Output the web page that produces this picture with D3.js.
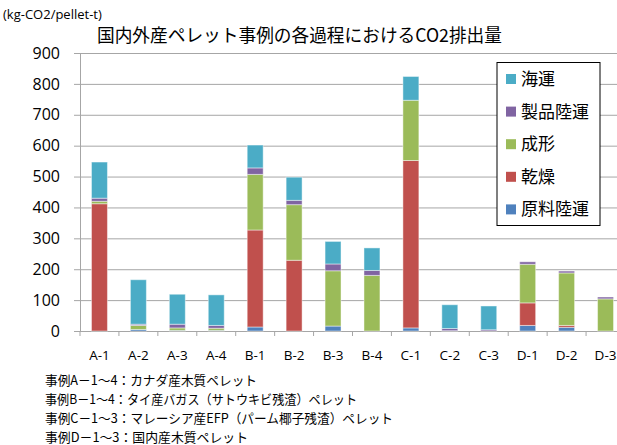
<!DOCTYPE html>
<html>
<head>
<meta charset="utf-8">
<script src="https://cdn.jsdelivr.net/npm/d3@7"></script>
<style>
  body { margin: 0; background: #fff; }
  svg { display: block; }
</style>
</head>
<body>
<div id="chart"></div>
<script>
// chart data
var categories = ["A-1", "A-2", "A-3", "A-4", "B-1", "B-2", "B-3", "B-4", "C-1", "C-2", "C-3", "D-1", "D-2", "D-3"];
var seriesNames = ["原料陸運", "乾燥", "成形", "製品陸運", "海運"];
var genryoRikuun = [0, 5, 2, 2, 13, 0, 16, 0, 10, 1, 0, 18, 12, 0];
var kanso = [412, 0, 0, 0, 314, 229, 0, 0, 542, 0, 0, 73, 6, 0];
var seikei = [8, 13, 8, 7, 180, 180, 179, 180, 195, 0, 0, 125, 170, 104];
var seihinRikuun = [10, 4, 12, 9, 21, 14, 22, 16, 0, 7, 4, 8, 6, 6];
var kaiun = [117, 144, 97, 99, 74, 75, 73, 73, 77, 77, 77, 0, 0, 0];
var yTicks = [0, 100, 200, 300, 400, 500, 600, 700, 800, 900];
var notes = [
  "事例A－1～4：カナダ産木質ペレット",
  "事例B－1～4：タイ産バガス（サトウキビ残渣）ペレット",
  "事例C－1～3：マレーシア産EFP（パーム椰子残渣）ペレット",
  "事例D－1～3：国内産木質ペレット"
];
var noteWidths = [212, 312, 348, 203];

var colors = ["#4f81bd", "#c0504d", "#9bbb59", "#8064a2", "#4bacc6"];

var svgWidth = 617, svgHeight = 445;
var margin = { top: 53, right: -8, bottom: 114, left: 80 };
var width = svgWidth - margin.left - margin.right;
var height = svgHeight - margin.top - margin.bottom;

var jpFont = "'Noto Sans CJK JP', sans-serif";
var numFont = "'Open Sans', sans-serif";

var svg = d3.select("#chart")
  .append("svg")
  .attr("width", svgWidth)
  .attr("height", svgHeight);

var chartGroup = svg.append("g")
  .attr("transform", `translate(${margin.left}, ${margin.top})`);

// build table for the stack
var table = categories.map((c, i) => ({
  cat: c,
  s0: genryoRikuun[i],
  s1: kanso[i],
  s2: seikei[i],
  s3: seihinRikuun[i],
  s4: kaiun[i]
}));
var keys = ["s0", "s1", "s2", "s3", "s4"];
var stacked = d3.stack().keys(keys)(table);

// scales
var xScale = d3.scaleBand()
  .domain(categories)
  .range([0, width])
  .paddingInner(0.59)
  .paddingOuter(0.295);

var yScale = d3.scaleLinear()
  .domain([0, 900])
  .range([height, 0]);

// gridlines
chartGroup.append("g")
  .attr("class", "grid")
  .call(d3.axisLeft(yScale).tickValues(yTicks).tickSize(-width).tickFormat(""))
  .call(g => g.select(".domain").remove())
  .call(g => g.selectAll("line").attr("stroke", "#a6a6a6").attr("stroke-width", 1));

// y axis
chartGroup.append("g")
  .call(d3.axisLeft(yScale).tickValues(yTicks).tickSize(6).tickPadding(14))
  .call(g => g.select(".domain").attr("stroke", "#a6a6a6"))
  .call(g => g.selectAll("line").attr("stroke", "#a6a6a6"))
  .call(g => g.selectAll("text")
    .attr("font-family", numFont)
    .attr("font-size", 16)
    .attr("fill", "#000"));

// x axis labels
chartGroup.append("g")
  .attr("transform", `translate(0, ${height})`)
  .call(d3.axisBottom(xScale).tickSize(0).tickPadding(19.5))
  .call(g => g.select(".domain").attr("stroke", "#a6a6a6"))
  .call(g => g.selectAll("text")
    .attr("font-family", numFont)
    .attr("font-size", 13.5)
    .attr("fill", "#000"));

// x tick marks at category boundaries
chartGroup.append("g")
  .selectAll("line")
  .data(d3.range(categories.length + 1))
  .enter()
  .append("line")
  .attr("x1", i => i * xScale.step())
  .attr("x2", i => i * xScale.step())
  .attr("y1", height)
  .attr("y2", height + 5)
  .attr("stroke", "#a6a6a6");

// bars
var layers = chartGroup.selectAll(".layer")
  .data(stacked)
  .enter()
  .append("g")
  .attr("fill", (d, i) => colors[i]);

layers.selectAll("rect")
  .data(d => d.filter(p => p[1] - p[0] > 0))
  .enter()
  .append("rect")
  .attr("x", d => xScale(d.data.cat))
  .attr("width", xScale.bandwidth())
  .attr("y", d => yScale(d[1]))
  .attr("height", d => yScale(d[0]) - yScale(d[1]))
  .attr("stroke", "rgba(255,255,255,0.45)")
  .attr("stroke-width", 1);

// unit label
svg.append("text")
  .attr("x", 3)
  .attr("y", 19)
  .attr("font-family", numFont)
  .attr("font-size", 13)
  .text("(kg-CO2/pellet-t)");

// title
svg.append("text")
  .attr("x", 97)
  .attr("y", 42)
  .attr("font-family", jpFont)
  .attr("font-size", 18)
  .attr("textLength", 405)
  .attr("lengthAdjust", "spacingAndGlyphs")
  .text("国内外産ペレット事例の各過程におけるCO2排出量");

// legend
var legend = svg.append("g");
legend.append("rect")
  .attr("x", 497)
  .attr("y", 62.5)
  .attr("width", 103)
  .attr("height", 163)
  .attr("fill", "#fff")
  .attr("stroke", "#000");

var legendOrder = [4, 3, 2, 1, 0];
var items = legend.selectAll(".item")
  .data(legendOrder)
  .enter()
  .append("g")
  .attr("transform", (d, i) => `translate(506, ${79 + i * 32.6})`);

items.append("rect")
  .attr("x", 0)
  .attr("y", -5)
  .attr("width", 10)
  .attr("height", 10)
  .attr("fill", d => colors[d]);

items.append("text")
  .attr("x", 15)
  .attr("y", 6)
  .attr("font-family", jpFont)
  .attr("font-size", 17)
  .text(d => seriesNames[d]);

// footnotes
svg.append("g")
  .selectAll("text")
  .data(notes)
  .enter()
  .append("text")
  .attr("x", 45)
  .attr("y", (d, i) => 384.5 + i * 19)
  .attr("font-family", jpFont)
  .attr("font-size", 13)
  .attr("textLength", (d, i) => noteWidths[i])
  .attr("lengthAdjust", "spacingAndGlyphs")
  .text(d => d);
</script>
</body>
</html>
